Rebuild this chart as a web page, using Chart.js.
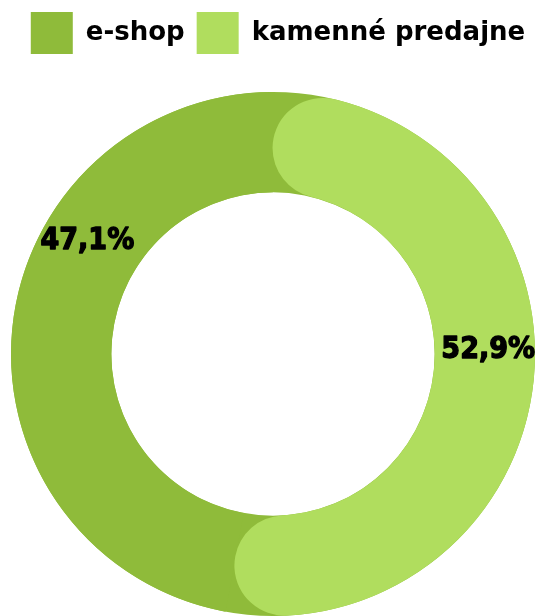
<!DOCTYPE html>
<html>
<head>
<meta charset="utf-8">
<script src="https://cdn.jsdelivr.net/npm/chart.js@4"></script>
<style>
  html, body { margin: 0; padding: 0; background: #fff; }
  #wrap { width: 542px; height: 616px; }
</style>
</head>
<body>
<div id="wrap"><canvas id="salesChart"></canvas></div>
<script>
var labels = ["e-shop", "kamenné predajne"];
var shares = [47.1, 52.9];
var colors = ["#8fbb3a", "#b0dd5e"];

function pct(v) {
    return v.toFixed(1).replace(".", ",") + "%";
}

// taller legend block, nudged a little to the right
var legendSpace = {
    id: "legendSpace",
    beforeInit: function (chart) {
        var fit = chart.legend.fit;
        chart.legend.fit = function () {
            fit.call(this);
            this.height = 92;
        };
    },
    afterLayout: function (chart) {
        chart.legend.left += 5;
        chart.legend.right += 5;
    }
};

// full dark ring under the slices so the rounded caps sit on green, not white
var ringUnderlay = {
    id: "ringUnderlay",
    beforeDatasetsDraw: function (chart) {
        var arc = chart.getDatasetMeta(0).data[0];
        if (!arc) return;
        var p = arc.getProps(["x", "y", "innerRadius", "outerRadius"]);
        var ctx = chart.ctx;
        ctx.save();
        ctx.beginPath();
        ctx.arc(p.x, p.y, p.outerRadius, 0, Math.PI * 2);
        ctx.arc(p.x, p.y, p.innerRadius, 0, Math.PI * 2, true);
        ctx.fillStyle = colors[0];
        ctx.fill();
        ctx.restore();
    }
};

// percentage text on each slice
var sliceLabels = {
    id: "sliceLabels",
    afterDatasetsDraw: function (chart, args, opts) {
        var ctx = chart.ctx;
        chart.getDatasetMeta(0).data.forEach(function (arc, i) {
            var p = arc.getProps(["x", "y", "startAngle", "endAngle", "innerRadius", "outerRadius"]);
            var a = p.startAngle + (p.endAngle - p.startAngle) * opts.along[i];
            var r = (p.innerRadius + p.outerRadius) / 2 * opts.reach[i];
            ctx.save();
            ctx.translate(p.x + Math.cos(a) * r, p.y + Math.sin(a) * r);
            ctx.scale(0.9, 1);
            ctx.font = "bold 30px 'DejaVu Sans'";
            ctx.fillStyle = "#000";
            ctx.strokeStyle = "#000";
            ctx.lineWidth = 1.4;
            ctx.lineJoin = "round";
            ctx.textAlign = "center";
            ctx.textBaseline = "middle";
            ctx.strokeText(pct(shares[i]), 0, 0);
            ctx.fillText(pct(shares[i]), 0, 0);
            ctx.restore();
        });
    }
};

var total = shares[0] + shares[1];

var salesChart = new Chart(document.getElementById("salesChart"), {
    type: "doughnut",
    data: {
        labels: labels,
        datasets: [{
            data: shares,
            backgroundColor: colors,
            hoverBackgroundColor: colors,
            borderWidth: 0,
            borderRadius: [0, 60]
        }]
    },
    options: {
        responsive: true,
        maintainAspectRatio: false,
        animation: false,
        cutout: "61.7%",
        rotation: 360 - shares[0] / total * 360,
        layout: { padding: { left: 4, right: 0, bottom: -5 } },
        plugins: {
            legend: {
                position: "top",
                labels: {
                    boxWidth: 42,
                    boxHeight: 42,
                    padding: 12,
                    color: "#000",
                    font: { family: "'DejaVu Sans'", size: 26, weight: "bold" }
                }
            },
            tooltip: { enabled: false },
            sliceLabels: {
                along: [0.654, 0.467],
                reach: [1.026, 1.016]
            }
        }
    },
    plugins: [legendSpace, ringUnderlay, sliceLabels]
});
</script>
</body>
</html>
